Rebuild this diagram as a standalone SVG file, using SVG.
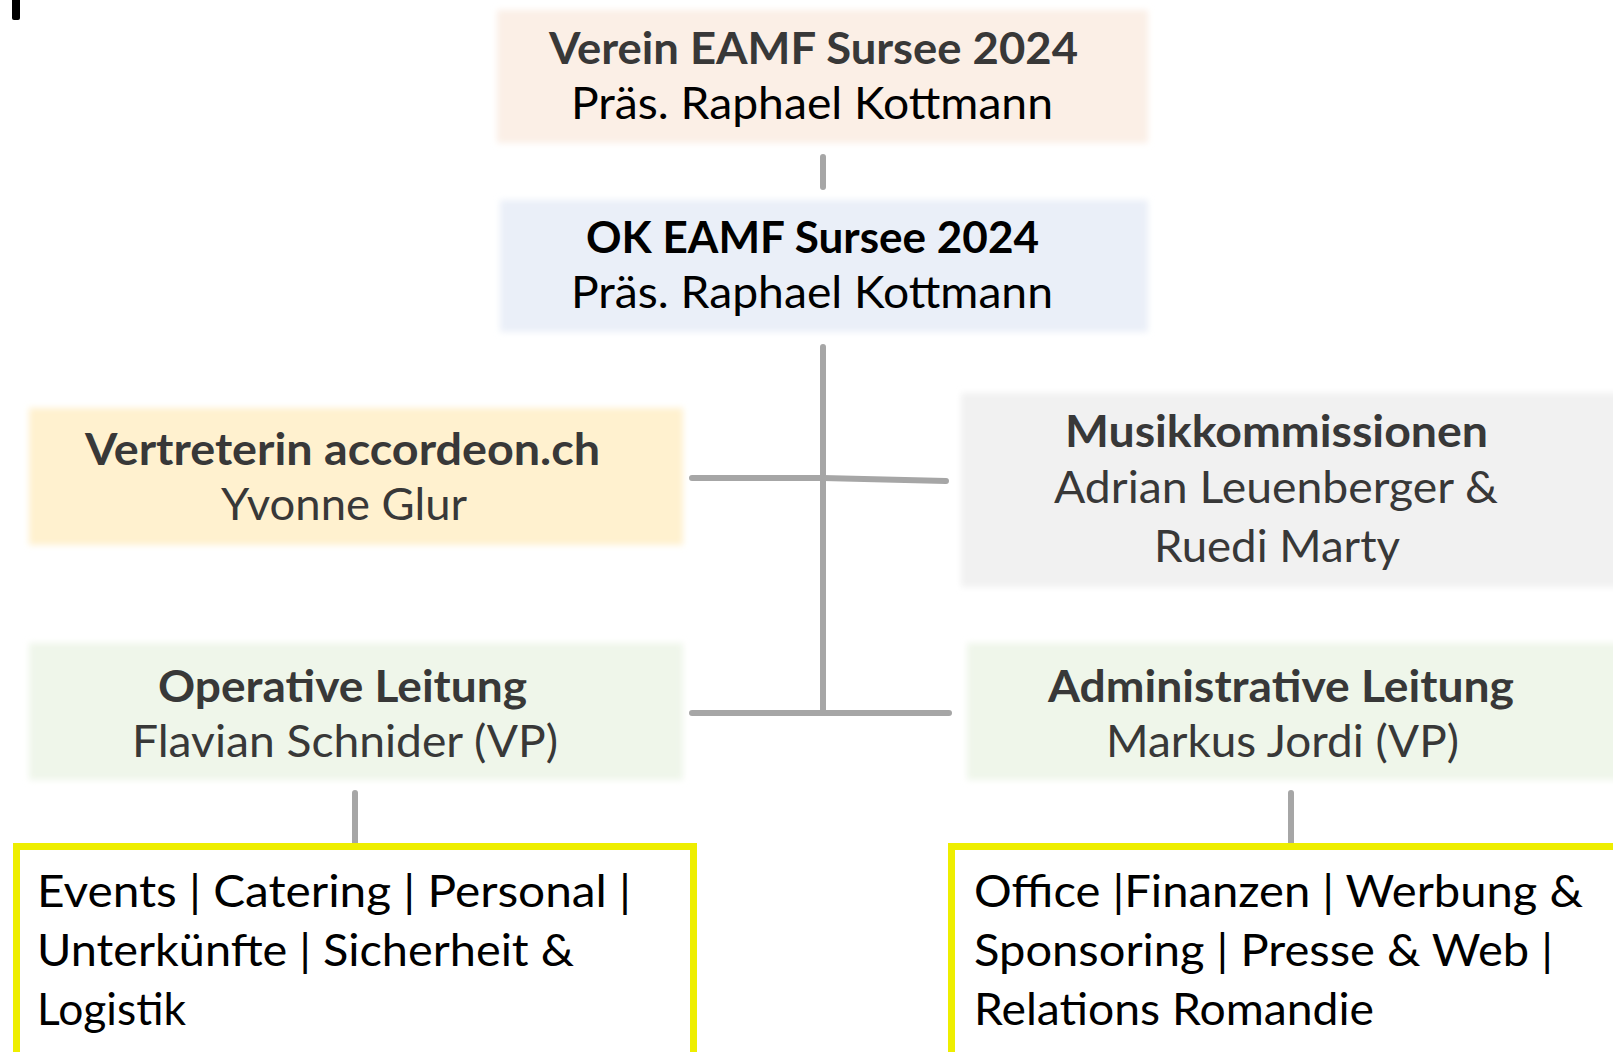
<svg xmlns="http://www.w3.org/2000/svg" width="1613" height="1052" viewBox="0 0 1613 1052">
<style>
.t{font-family:Lato,"Noto Sans","Liberation Sans",sans-serif;font-size:44px}
.b{font-weight:bold}
.g{fill:#383838}
.k{fill:#000}
.box{filter:url(#soft)}
.ybox{fill:#fff;stroke:#EEEE00;stroke-width:7}
.con{fill:none;stroke:#A6A6A6;stroke-width:6;stroke-linecap:round;stroke-linejoin:round}
</style>
<defs>
<filter id="soft" x="-5%" y="-10%" width="110%" height="120%">
<feGaussianBlur stdDeviation="3"/>
</filter>
</defs>
<rect width="1613" height="1052" fill="#fff"/>
<rect x="12" y="-3" width="8" height="23" rx="2" fill="#000"/>
<g id="connectors">
<path class="con" d="M823 157V187"/>
<path class="con" d="M823 347V713"/>
<path class="con" d="M692 478H823L946 481"/>
<path class="con" d="M692 713H949"/>
<path class="con" d="M355 793V843"/>
<path class="con" d="M1291 793V843"/>
</g>
<g id="verein">
<rect class="box" x="497" y="10" width="651" height="133" fill="#FBEFE6"/>
<text class="t b g" x="549" y="64" textLength="529" lengthAdjust="spacingAndGlyphs">Verein EAMF Sursee 2024</text>
<text class="t k" x="571" y="119" textLength="482" lengthAdjust="spacingAndGlyphs">Präs. Raphael Kottmann</text>
</g>
<g id="ok">
<rect class="box" x="500" y="200" width="648" height="132" fill="#EAEFF8"/>
<text class="t b k" x="586" y="253" textLength="453" lengthAdjust="spacingAndGlyphs">OK EAMF Sursee 2024</text>
<text class="t k" x="571" y="308" textLength="482" lengthAdjust="spacingAndGlyphs">Präs. Raphael Kottmann</text>
</g>
<g id="vertreterin">
<rect class="box" x="29" y="408" width="654" height="137" fill="#FFF1CF"/>
<text class="t b g" x="85" y="465" textLength="515" lengthAdjust="spacingAndGlyphs">Vertreterin accordeon.ch</text>
<text class="t g" x="221" y="520" textLength="246" lengthAdjust="spacingAndGlyphs">Yvonne Glur</text>
</g>
<g id="musik">
<rect class="box" x="961" y="393" width="660" height="194" fill="#F1F1F1"/>
<text class="t b g" x="1065" y="447" textLength="423" lengthAdjust="spacingAndGlyphs">Musikkommissionen</text>
<text class="t g" x="1054" y="503" textLength="444" lengthAdjust="spacingAndGlyphs">Adrian Leuenberger &amp;</text>
<text class="t g" x="1154" y="562" textLength="246" lengthAdjust="spacingAndGlyphs">Ruedi Marty</text>
</g>
<g id="operative">
<rect class="box" x="29" y="643" width="654" height="137" fill="#EFF6EA"/>
<text class="t b g" x="158" y="702" textLength="369" lengthAdjust="spacingAndGlyphs">Operative Leitung</text>
<text class="t g" x="132" y="757" textLength="426" lengthAdjust="spacingAndGlyphs">Flavian Schnider (VP)</text>
</g>
<g id="administrative">
<rect class="box" x="967" y="643" width="660" height="137" fill="#EFF6EA"/>
<text class="t b g" x="1048" y="702" textLength="466" lengthAdjust="spacingAndGlyphs">Administrative Leitung</text>
<text class="t g" x="1106" y="757" textLength="353" lengthAdjust="spacingAndGlyphs">Markus Jordi (VP)</text>
</g>
<g id="operative-bereiche">
<rect class="ybox" x="16.5" y="846.5" width="677" height="212"/>
<text class="t k" x="37" y="907" textLength="594" lengthAdjust="spacingAndGlyphs">Events | Catering | Personal |</text>
<text class="t k" x="37" y="966" textLength="537" lengthAdjust="spacingAndGlyphs">Unterkünfte | Sicherheit &amp;</text>
<text class="t k" x="37" y="1025" textLength="149" lengthAdjust="spacingAndGlyphs">Logistik</text>
</g>
<g id="administrative-bereiche">
<rect class="ybox" x="951.5" y="846.5" width="680" height="212"/>
<text class="t k" x="974" y="907" textLength="609" lengthAdjust="spacingAndGlyphs">Office |Finanzen | Werbung &amp;</text>
<text class="t k" x="974" y="966" textLength="579" lengthAdjust="spacingAndGlyphs">Sponsoring | Presse &amp; Web |</text>
<text class="t k" x="974" y="1025" textLength="400" lengthAdjust="spacingAndGlyphs">Relations Romandie</text>
</g>
</svg>
